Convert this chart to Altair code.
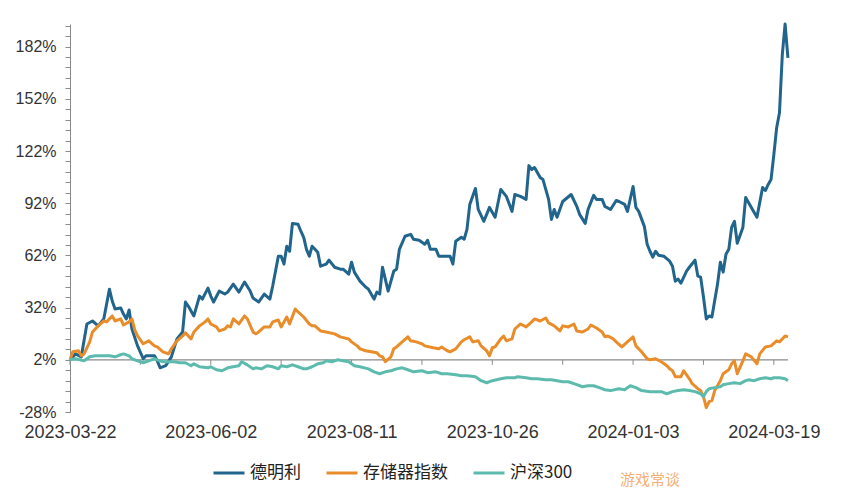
import altair as alt
import pandas as pd

# ---------------- data (trading-day index, cumulative return %) ----------------
date_labels = ["2023-03-22", "2023-06-02", "2023-08-11", "2023-10-26", "2024-01-03", "2024-03-19"]
label_days = [0, 50, 100, 150, 200, 250]
tick_days = [0, 25, 50, 75, 100, 125, 150, 175, 200, 225, 250]

series_names = ["德明利", "存储器指数", "沪深300"]
series_colors = ["#21648c", "#e98c2a", "#5dbbae"]

dml_day = [0, 2, 4, 6, 8, 10, 12, 14, 15, 16, 18, 19, 20, 21, 22, 24, 26, 27, 30, 31, 32, 34, 36, 38, 40, 41, 42,
           44, 46, 47, 49, 50, 51, 53, 55, 56, 58, 60, 62, 64, 65, 67, 69, 71, 72, 74, 75, 76, 77, 78, 79, 81, 82,
           83, 84, 85, 86, 88, 89, 91, 92, 94, 96, 97, 99, 100, 101, 103, 105, 106, 108, 109, 110, 111, 113, 115,
           116, 117, 119, 121, 122, 124, 126, 127, 128, 130, 131, 133, 135, 136, 137, 139, 140, 141, 142, 144, 145,
           147, 149, 151, 153, 155, 157, 158, 160, 162, 163, 164, 165, 167, 168, 170, 171, 172, 173, 175, 178, 180,
           181, 183, 184, 186, 187, 189, 190, 192, 194, 195, 197, 198, 200, 201, 202, 204, 205, 206, 207, 208, 209,
           211, 213, 214, 215, 216, 217, 219, 220, 222, 223, 224, 225, 226, 227, 228, 230, 231, 232, 233, 234, 235,
           236, 237, 239, 240, 242, 244, 246, 247, 248, 249, 250, 251, 252, 253, 254, 255]
dml_val = [2, 5.4, 3.7, 22.6, 24.3, 21.5, 25.5, 42.6, 35.8, 31.2, 31.8, 28.3, 25.5, 30.6, 19.7, 10.0, 2.6, 4.3, 4.3,
           1.4, -2.6, -1.4, 3.7, 14.0, 18.0, 35.2, 32.9, 27.2, 38.6, 36.9, 43.2, 38.6, 35.2, 41.5, 39.8, 40.9, 45.5,
           40.9, 46.7, 41.5, 37.5, 35.2, 39.8, 36.9, 44.4, 61.5, 61.5, 57.0, 67.3, 64.4, 80.4, 79.9, 75.9, 72.4, 65.5,
           61.5, 67.3, 63.8, 55.8, 57.0, 59.3, 55.2, 54.1, 54.1, 51.2, 58.1, 52.4, 47.2, 43.8, 42.6, 36.9, 40.9, 39.8,
           55.2, 41.5, 53.0, 54.1, 65.5, 73.0, 74.1, 71.3, 70.7, 68.4, 70.7, 65.5, 65.5, 61.5, 61.5, 61.5, 57.0, 70.1,
           72.4, 71.3, 77.0, 91.3, 100.5, 88.4, 81.6, 89.6, 83.9, 99.9, 95.9, 87.3, 97.0, 95.9, 94.2, 113.6, 111.3,
           112.5, 106.8, 105.6, 94.2, 82.7, 88.4, 83.9, 93.0, 97.0, 90.2, 85.6, 80.4, 88.4, 96.5, 94.2, 94.2, 90.2,
           88.4, 93.6, 93.0, 91.3, 87.3, 101.6, 89.6, 87.3, 78.7, 68.4, 64.4, 61.0, 64.4, 62.1, 61.5, 58.7, 55.8,
           47.2, 48.4, 46.1, 53.0, 55.2, 59.3, 50.1, 49.5, 38.1, 25.5, 27.2, 26.6, 45.5, 58.1, 52.4, 62.7, 65.5, 78.1,
           81.6, 69.0, 78.1, 95.3, 89.6, 83.9, 101.0, 99.3, 102.8, 105.6, 119.9, 135.4, 144.0, 177.2, 195.0, 175.5]

mem_day = [0, 1, 3, 4, 5, 7, 8, 10, 12, 13, 15, 16, 18, 19, 21, 22, 23, 24, 26, 28, 30, 31, 33, 35, 36, 38, 40, 41,
           43, 44, 46, 48, 49, 50, 52, 53, 55, 56, 57, 58, 60, 62, 63, 65, 66, 67, 69, 71, 72, 74, 75, 77, 78, 80,
           81, 83, 85, 86, 87, 89, 91, 94, 96, 99, 100, 102, 103, 105, 107, 109, 110, 111, 112, 114, 115, 116, 118,
           120, 121, 123, 125, 126, 129, 131, 132, 134, 135, 137, 139, 140, 142, 143, 145, 146, 148, 149, 150, 151,
           153, 154, 155, 157, 158, 160, 162, 164, 165, 167, 169, 170, 172, 174, 175, 177, 179, 180, 182, 184, 185,
           187, 189, 190, 191, 193, 194, 196, 198, 200, 201, 203, 205, 206, 208, 210, 212, 213, 214, 215, 217, 218,
           220, 221, 223, 224, 225, 226, 227, 228, 229, 231, 232, 234, 235, 236, 237, 239, 240, 242, 244, 245, 247,
           249, 251, 252, 254, 255]
mem_val = [2, 6.6, 7.2, 4.3, 5.4, 12.3, 18.0, 21.5, 24.3, 23.8, 27.2, 24.3, 25.5, 22.0, 23.8, 25.5, 19.2, 15.7, 11.2,
           12.9, 10.0, 9.4, 6.6, 5.4, 8.3, 12.9, 15.7, 17.5, 14.0, 18.0, 21.5, 23.8, 25.5, 22.6, 20.9, 18.6, 19.7,
           21.5, 20.9, 25.5, 22.6, 27.2, 25.5, 18.0, 16.9, 18.0, 20.9, 20.9, 23.8, 24.9, 20.9, 26.6, 22.6, 31.2, 29.5,
           26.6, 22.6, 21.5, 21.5, 18.6, 18.0, 16.9, 15.2, 14.0, 12.3, 10.0, 8.3, 7.2, 6.6, 6.0, 4.3, 3.7, 0.9, 3.7,
           8.3, 9.4, 12.3, 15.2, 12.9, 12.3, 11.2, 10.0, 8.9, 8.3, 9.4, 7.2, 6.6, 8.3, 12.3, 13.5, 15.2, 12.3, 12.9,
           10.0, 7.2, 4.3, 8.9, 9.4, 14.0, 15.7, 12.9, 14.0, 19.7, 22.6, 20.9, 23.8, 25.5, 24.3, 26.0, 23.2, 21.5,
           18.6, 21.5, 20.9, 22.6, 18.6, 18.0, 19.7, 22.0, 20.3, 18.0, 15.2, 15.7, 14.0, 12.3, 9.4, 12.3, 15.2, 10.0,
           6.6, 2.6, 2.0, 2.6, 0.9, -1.4, -3.2, -4.3, -7.7, -7.7, -4.3, -8.9, -11.7, -14.6, -15.7, -19.2, -25.5,
           -22.0, -21.5, -15.7, -10.0, -6.0, -3.7, -0.3, 1.4, -6.0, 1.4, 5.4, 3.7, -0.3, 5.4, 9.4, 10.0, 12.9, 12.3,
           15.7, 15.2]

hs_day = [0, 2, 5, 7, 9, 12, 14, 16, 18, 19, 21, 22, 24, 26, 28, 30, 31, 33, 35, 37, 39, 41, 43, 44, 46, 49, 50, 52,
          54, 56, 58, 60, 61, 63, 65, 66, 68, 70, 72, 74, 75, 77, 79, 81, 83, 84, 86, 88, 90, 91, 93, 95, 97, 99, 101,
          103, 106, 108, 110, 112, 114, 116, 118, 120, 122, 125, 127, 130, 132, 134, 137, 139, 141, 144, 146, 148,
          150, 153, 155, 158, 159, 162, 164, 166, 169, 171, 175, 177, 180, 182, 184, 186, 188, 190, 192, 195, 197,
          199, 201, 203, 206, 208, 210, 212, 214, 216, 218, 220, 222, 224, 225, 226, 227, 229, 231, 232, 234, 236,
          238, 240, 241, 243, 245, 247, 249, 250, 252, 254, 255]
hs_val = [2, 2.6, 1.4, 3.7, 4.3, 4.3, 4.3, 3.7, 4.9, 5.4, 4.3, 2.6, 1.4, 0.3, 1.4, 2.6, 2.0, 0.9, 0.9, 0.9, 0.3, 0.3,
          -1.4, -0.3, -2.0, -2.6, -2.0, -3.7, -4.3, -2.6, -2.0, -1.4, 0.9, -0.9, -3.2, -2.6, -3.2, -1.4, -2.0, -3.2,
          -1.4, -2.0, -0.9, -2.0, -3.2, -3.2, -2.0, -0.3, 0.3, 1.4, 0.9, 2.0, 1.4, 0.9, -1.4, -2.0, -3.2, -4.9, -6.0,
          -4.9, -4.3, -3.2, -2.6, -3.7, -4.9, -4.3, -5.4, -4.9, -6.0, -6.0, -6.6, -7.2, -7.2, -7.7, -10.0, -11.2,
          -10.0, -8.9, -8.3, -8.3, -7.7, -8.3, -8.9, -8.9, -9.5, -9.5, -10.6, -10.6, -12.3, -13.5, -12.9, -12.9,
          -14.0, -15.2, -15.7, -14.6, -15.2, -12.9, -14.0, -15.7, -16.3, -16.3, -16.3, -17.5, -16.3, -15.7, -15.2,
          -15.7, -16.3, -17.5, -19.2, -16.3, -14.6, -14.0, -13.5, -12.3, -11.7, -11.2, -11.7, -10.0, -9.5, -10.0,
          -8.9, -8.3, -8.9, -8.3, -8.3, -8.9, -10.0]

y_ticks = [-28 + 6 * k for k in range(38)]  # minor every 6%, labelled every 30%
baseline_value = 2
line_end_day = 255

rows = []
for name, days, vals in [(series_names[0], dml_day, dml_val),
                         (series_names[1], mem_day, mem_val),
                         (series_names[2], hs_day, hs_val)]:
    for d, v in zip(days, vals):
        rows.append({"series": name, "day": d, "value": v})
df = pd.DataFrame(rows)

CJK_FONT = "Noto Sans CJK SC"
NUM_FONT = "Liberation Sans"
x_scale = alt.Scale(domain=[0, 260], nice=False, zero=False)
y_scale = alt.Scale(domain=[-28, 195], nice=False, zero=False)

labels_js = "[" + ",".join("'" + s + "'" for s in date_labels) + "]"

x_axis = alt.Axis(values=label_days, labelExpr=labels_js + "[round(datum.value/50)]",
                  domain=False, ticks=False, grid=False, labelFontSize=18, labelPadding=11,
                  labelColor="#333333", title=None, labelFont=NUM_FONT, labelFlush=False, labelOverlap=False)
y_axis = alt.Axis(values=y_ticks, labelExpr="(datum.value + 28) % 30 == 0 ? datum.value + '%' : ''",
                  tickSize=5, tickColor="#8a8a8a", domainColor="#8a8a8a", grid=False,
                  labelFontSize=16, labelColor="#333333", labelPadding=9, title=None, labelFont=NUM_FONT,
                  labelOverlap=False, labelFlush=False)

base_df = pd.DataFrame({"day": [0], "x1": [line_end_day], "value": [baseline_value]})
base_rule = alt.Chart(base_df).mark_rule(color="#8a8a8a", strokeWidth=1.2).encode(
    x=alt.X("day:Q", scale=x_scale, axis=x_axis),
    x2="x1:Q",
    y=alt.Y("value:Q", scale=y_scale, axis=y_axis),
)

tick_df = pd.DataFrame({"day": tick_days, "value": [baseline_value] * len(tick_days)})
ticks = alt.Chart(tick_df).mark_rule(color="#8a8a8a", strokeWidth=1, y2Offset=5).encode(
    x=alt.X("day:Q", scale=x_scale, axis=x_axis),
    y=alt.Y("value:Q", scale=y_scale, axis=y_axis),
    y2="value:Q",
)

lines = alt.Chart(df).mark_line(strokeWidth=3, strokeJoin="round").encode(
    x=alt.X("day:Q", scale=x_scale, axis=x_axis),
    y=alt.Y("value:Q", scale=y_scale, axis=y_axis),
    color=alt.Color("series:N",
                    scale=alt.Scale(domain=series_names, range=series_colors),
                    sort=series_names,
                    legend=alt.Legend(orient="none", legendX=142, legendY=432, direction="horizontal",
                                      symbolType="stroke", symbolSize=961, symbolStrokeWidth=3,
                                      labelFontSize=17, labelOffset=4, columnPadding=19, title=None,
                                      labelFont=CJK_FONT, labelColor="#222222")),
)

watermark = alt.Chart(pd.DataFrame({"t": ["游戏常谈"]})).mark_text(
    fontSize=15, color="#f2a865", font=CJK_FONT, opacity=0.9
).encode(x=alt.value(580), y=alt.value(456), text="t:N")

chart = alt.layer(base_rule, ticks, lines, watermark).properties(
    width=732, height=388,
    padding={"left": 62, "top": 16, "right": 46, "bottom": 80},
    autosize=alt.AutoSizeParams(type="none"),
    background="white",
).configure_view(stroke=None)

chart.save("out.html", embed_options={"renderer": "svg", "actions": False})
